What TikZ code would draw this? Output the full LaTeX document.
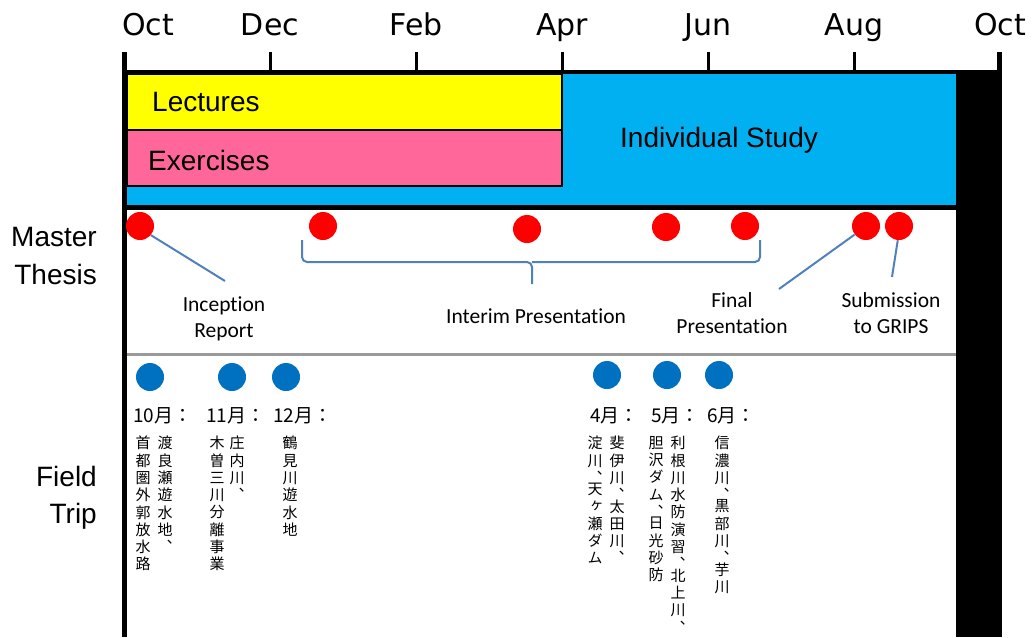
\documentclass[tikz,border=0pt]{standalone}
\usepackage{fontspec}
\setmainfont{Liberation Sans}
\newfontfamily\monthfont{DejaVu Sans}
\newfontfamily\notefont[Ligatures=NoCommon]{Carlito}
\newfontfamily\jplabel{Noto Sans CJK JP}
\newfontfamily\jpfont[RawFeature=+vert]{Noto Sans CJK JP}

\definecolor{lecyellow}{HTML}{FFFF00}
\definecolor{expink}{HTML}{FF6699}
\definecolor{studyblue}{HTML}{00B0F0}
\definecolor{tripblue}{HTML}{0070C0}
\definecolor{linkblue}{HTML}{4F81BD}

\tikzset{
	month/.style={font=\monthfont\fontsize{30}{30}\selectfont, anchor=base, inner sep=0pt},
	tick/.style={line width=3pt},
	barlabel/.style={font=\fontsize{28}{28}\selectfont, anchor=base west, inner sep=0pt},
	rowlabel/.style={font=\fontsize{28}{37}\selectfont, align=right, anchor=east, inner sep=0pt},
	thesisdot/.style={circle, fill=red, minimum size=28pt, inner sep=0pt},
	tripdot/.style={circle, fill=tripblue, minimum size=28pt, inner sep=0pt},
	link/.style={draw=linkblue, line width=2pt},
	note/.style={font=\notefont\fontsize{21.5}{26}\selectfont, align=center, inner sep=0pt},
	tripmonth/.style={font=\jplabel\fontsize{19}{19}\selectfont, anchor=base west, inner sep=0pt},
	tate/.style={font=\jpfont\fontsize{15}{17.3}\selectfont, align=center, anchor=north, inner sep=0pt},
}

\begin{document}
\begin{tikzpicture}[x=1pt,y=-1pt]
	\useasboundingbox (0,0) rectangle (1032,637);

	% bars
	\fill[studyblue] (127,74) rectangle (956,205);
	\filldraw[fill=lecyellow, line width=1.5pt] (127,74) rectangle (562,130);
	\filldraw[fill=expink, line width=1.5pt] (127,130) rectangle (562,186);
	\draw[line width=4pt] (124,72)--(1002,72);
	\draw[line width=5pt] (124,207.5)--(956,207.5);
	\fill (956,70) rectangle (1002,637);
	\draw[line width=5pt] (124.5,52)--(124.5,637);
	\draw[gray!80, line width=3pt] (127,354)--(956,354);

	% months
	\node[month, anchor=base west] (m0) at (122,35) {Oct};
	\foreach \mon [count=\i] in {Dec,Feb,Apr,Jun,Aug,Oct} {
		\node[month] (m\i) at (124+146*\i,35) {\mon};
		\draw[tick] (124+146*\i,52)--(124+146*\i,72);
	}
	\draw[line width=5pt] (999.5,52)--(999.5,72);

	\node[barlabel] (lect) at (152,111) {Lectures};
	\node[barlabel] (exer) at (148,170) {Exercises};
	\node[barlabel] (study) at (620,147) {Individual Study};

	\node[rowlabel] (thesis) at (97,256) {Master\\Thesis};
	\node[rowlabel] (trip) at (97,498) {Field\\Trip};

	% master thesis
	\coordinate (incend) at (225,281);
	\coordinate (finend) at (779,289);
	\coordinate (subend) at (892,277);
	\draw[link, rounded corners=5pt] (302,240)--(302,262)--(532,262)--(532,284);
	\draw[link, rounded corners=5pt] (532,262)--(760,262)--(760,240);
	\foreach \x/\y [count=\i] in {140/226,323/226,527/229,666/227,745/226,866/226,899/226}
		\node[thesisdot] (r\i) at (\x,\y) {};
	\draw[link] (r1.-40)--(incend);
	\draw[link] (r6.217)--(finend);
	\draw[link] (r7.265)--(subend);

	\node[note, anchor=north] (inc) at (224,297) {Inception\\Report};
	\node[note, anchor=base] (interim) at (536,323) {Interim Presentation};
	\node[note, anchor=north] (final) at (732,292) {Final\\Presentation};
	\node[note, anchor=north] (submit) at (891,292) {Submission\\to GRIPS};

	% field trip
	\foreach \x/\y [count=\i] in {150/377,232/377,286/377,607/375,667/375,719/375}
		\node[tripdot] (t\i) at (\x,\y) {};

	\node[tripmonth] (oct) at (133,422) {10月：};
	\node[tripmonth] (nov) at (206,422) {11月：};
	\node[tripmonth] (dec) at (273,422) {12月：};
	\node[tripmonth] (apr) at (590,422) {4月：};
	\node[tripmonth] (may) at (651,422) {5月：};
	\node[tripmonth] (jun) at (707,422) {6月：};

	\node[tate] (octa) at (165,436) {渡\\良\\瀬\\遊\\水\\地\\、};
	\node[tate] (octb) at (143,436) {首\\都\\圏\\外\\郭\\放\\水\\路};
	\node[tate] (nova) at (237,436) {庄\\内\\川\\、};
	\node[tate] (novb) at (217,436) {木\\曽\\三\\川\\分\\離\\事\\業};
	\node[tate] (deca) at (290,436) {鶴\\見\\川\\遊\\水\\地};
	\node[tate] (apra) at (617,436) {斐\\伊\\川\\、\\[-6pt]太\\田\\川\\、};
	\node[tate] (aprb) at (595,436) {淀\\川\\、\\[-6pt]天\\ヶ\\瀬\\ダ\\ム};
	\node[tate] (maya) at (678,436) {利\\根\\川\\水\\防\\演\\習\\、\\[-6pt]北\\上\\川\\、};
	\node[tate] (mayb) at (656,436) {胆\\沢\\ダ\\ム\\、\\[-6pt]日\\光\\砂\\防};
	\node[tate] (juna) at (722,436) {信\\濃\\川\\、\\[-6pt]黒\\部\\川\\、\\[-6pt]芋\\川};

\end{tikzpicture}
\end{document}
